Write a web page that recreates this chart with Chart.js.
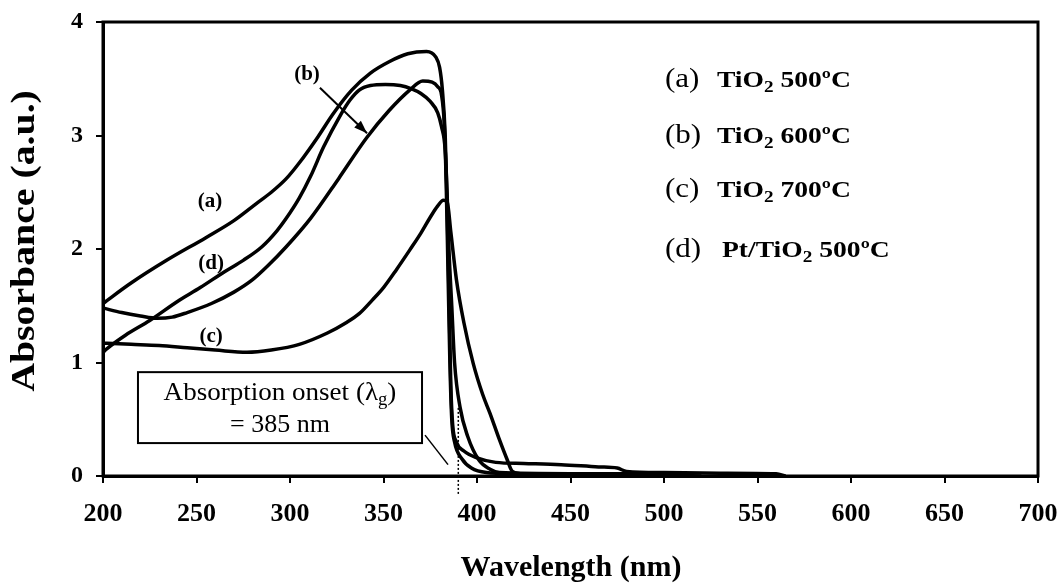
<!DOCTYPE html>
<html>
<head>
<meta charset="utf-8">
<script src="https://cdn.jsdelivr.net/npm/chart.js@4/dist/chart.umd.min.js"></script>
<style>
  body { margin: 0; background: #fff; }
</style>
</head>
<body>
<canvas id="absChart" width="1062" height="583"></canvas>
<script>
// spectra (wavelength nm / absorbance a.u.)
var wlA = [200, 215, 234, 255, 270, 282, 290, 298, 305, 315, 323, 333, 343, 353, 363, 373, 378, 380, 381.5, 383, 384, 385, 386, 387, 389, 393, 400, 410, 425, 445, 465, 475, 480, 500, 530, 560, 565];
var absA = [1.52, 1.70, 1.90, 2.10, 2.25, 2.40, 2.50, 2.62, 2.76, 2.99, 3.19, 3.40, 3.55, 3.65, 3.72, 3.74, 3.69, 3.60, 3.40, 3.00, 2.40, 1.60, 0.80, 0.45, 0.30, 0.22, 0.16, 0.12, 0.11, 0.10, 0.08, 0.07, 0.04, 0.03, 0.025, 0.02, 0.0];

var wlB = [200, 210, 220, 229, 237, 245, 258, 270, 280, 288, 298, 311, 326, 341, 353, 364, 371, 376, 379, 381, 382.5, 383.5, 384.5, 385.5, 386.5, 388, 392, 397, 405, 420, 500, 520];
var absB = [1.48, 1.44, 1.41, 1.39, 1.40, 1.44, 1.52, 1.62, 1.73, 1.85, 2.02, 2.27, 2.62, 2.98, 3.22, 3.40, 3.48, 3.47, 3.43, 3.36, 3.10, 2.60, 1.80, 1.00, 0.50, 0.30, 0.15, 0.07, 0.03, 0.02, 0.01, 0.0];

var wlC = [200, 215, 230, 245, 260, 277, 290, 305, 320, 330, 337, 344, 350, 357, 364, 370, 375, 379, 382, 384, 386, 389, 393, 398, 403, 407, 412, 416, 419, 425, 450, 500, 510];
var absC = [1.17, 1.16, 1.15, 1.13, 1.11, 1.09, 1.11, 1.16, 1.26, 1.35, 1.43, 1.55, 1.66, 1.82, 1.99, 2.14, 2.28, 2.38, 2.43, 2.42, 2.15, 1.73, 1.35, 0.99, 0.72, 0.55, 0.32, 0.15, 0.04, 0.02, 0.02, 0.01, 0.0];

var wlD = [200, 202, 212, 225, 240, 252, 265, 275, 285, 293, 298, 305, 311, 318, 327, 332, 337, 343, 351, 359, 365, 370, 375, 379, 381, 383, 384, 385, 386.5, 388, 391, 395, 401, 407, 412, 450, 505, 510];
var absD = [1.09, 1.12, 1.24, 1.37, 1.54, 1.66, 1.80, 1.90, 2.02, 2.16, 2.27, 2.45, 2.64, 2.90, 3.18, 3.31, 3.40, 3.44, 3.45, 3.44, 3.41, 3.37, 3.30, 3.20, 3.08, 2.87, 2.50, 2.00, 1.50, 1.00, 0.60, 0.35, 0.14, 0.06, 0.03, 0.02, 0.02, 0.0];

var seriesNames = ["(a) TiO2 500ºC", "(b) TiO2 600ºC", "(c) TiO2 700ºC", "(d) Pt/TiO2 500ºC"];
var xTicks = [200, 250, 300, 350, 400, 450, 500, 550, 600, 650, 700];
var yTicks = [0, 1, 2, 3, 4];

function pts(xs, ys) {
    var out = [];
    for (var i = 0; i < xs.length; i++) out.push({x: xs[i], y: ys[i]});
    return out;
}

var SERIF = '"Liberation Serif", "Times New Roman", serif';

// text drawn a bit wider than the font, like the scanned figure
function wideText(ctx, txt, x, y, sx) {
    ctx.save();
    ctx.translate(x, y);
    ctx.scale(sx, 1);
    ctx.fillText(txt, 0, 0);
    ctx.restore();
    return ctx.measureText(txt).width * sx;
}

function richText(ctx, x, y, parts, sx) {
    // parts: [text, font, dy]
    for (var i = 0; i < parts.length; i++) {
        ctx.font = parts[i][1];
        x += wideText(ctx, parts[i][0], x, y + (parts[i][2] || 0), sx);
    }
}

var annotations = {
    id: 'annotations',
    afterDraw: function(chart) {
        var ctx = chart.ctx, ca = chart.chartArea;
        var xs = chart.scales.x, ys = chart.scales.y;
        var px = function(v) { return xs.getPixelForValue(v); };
        var py = function(v) { return ys.getPixelForValue(v); };
        ctx.save();
        ctx.fillStyle = '#000';
        ctx.strokeStyle = '#000';

        // frame
        ctx.lineWidth = 3;
        ctx.strokeRect(ca.left, ca.top, ca.right - ca.left, ca.bottom - ca.top);

        // axis titles
        ctx.textAlign = 'center';
        ctx.textBaseline = 'middle';
        ctx.font = 'bold 30px ' + SERIF;
        ctx.fillText('Wavelength (nm)', 571, 568);
        ctx.save();
        ctx.translate(25, 241);
        ctx.rotate(-Math.PI / 2);
        ctx.scale(1.17, 1);
        ctx.font = 'bold 34px ' + SERIF;
        ctx.fillText('Absorbance (a.u.)', 0, 0);
        ctx.restore();

        // curve labels
        ctx.font = 'bold 21px ' + SERIF;
        ctx.fillText('(a)', px(257.2), py(2.42));
        ctx.fillText('(b)', px(309.1), py(3.54));
        ctx.fillText('(c)', px(257.8), py(1.23));
        ctx.fillText('(d)', px(257.8), py(1.87));

        // arrow to (b)
        var x1 = px(316), y1 = py(3.42), x2 = px(341.2), y2 = py(3.02);
        ctx.lineWidth = 2;
        ctx.beginPath(); ctx.moveTo(x1, y1); ctx.lineTo(x2, y2); ctx.stroke();
        var ang = Math.atan2(y2 - y1, x2 - x1);
        ctx.beginPath();
        ctx.moveTo(x2, y2);
        ctx.lineTo(x2 - 14 * Math.cos(ang - 0.35), y2 - 14 * Math.sin(ang - 0.35));
        ctx.lineTo(x2 - 14 * Math.cos(ang + 0.35), y2 - 14 * Math.sin(ang + 0.35));
        ctx.closePath(); ctx.fill();

        // legend block
        ctx.textAlign = 'left';
        ctx.textBaseline = 'alphabetic';
        var reg = '27px ' + SERIF, bold = 'bold 23px ' + SERIF, sub = 'bold 16px ' + SERIF;
        var rows = [['(a)', 'TiO', ' 500ºC', 3.43], ['(b)', 'TiO', ' 600ºC', 2.93], ['(c)', 'TiO', ' 700ºC', 2.455], ['(d)', 'Pt/TiO', ' 500ºC', 1.93]];
        rows.forEach(function(r, i) {
            var by = py(r[3]);
            ctx.font = reg;
            wideText(ctx, r[0], px(500.5), by, 1.15);
            richText(ctx, px(i === 3 ? 531 : 528.3), by, [[r[1], bold, 0], ['2', sub, 5], [r[2], bold, 0]], 1.2);
        });

        // onset box
        var bx1 = px(218.7), bx2 = px(370.6), by1 = py(0.915), by2 = py(0.29);
        ctx.lineWidth = 2;
        ctx.fillStyle = '#fff';
        ctx.fillRect(bx1, by1, bx2 - bx1, by2 - by1);
        ctx.strokeRect(bx1, by1, bx2 - bx1, by2 - by1);
        ctx.fillStyle = '#000';
        var f1 = '26px ' + SERIF, fs = '18px ' + SERIF;
        ctx.font = f1;
        var w1 = ctx.measureText('Absorption onset (λ)').width;
        ctx.font = fs;
        var wg = ctx.measureText('g').width;
        var cx = (bx1 + bx2) / 2;
        richText(ctx, cx - (w1 + wg) * 1.04 / 2, py(0.669), [['Absorption onset (λ', f1, 0], ['g', fs, 5], [')', f1, 0]], 1.04);
        ctx.textAlign = 'center';
        ctx.font = f1;
        ctx.fillText('= 385 nm', cx, py(0.387));

        // leader line and onset marker
        ctx.lineWidth = 1.5;
        ctx.beginPath(); ctx.moveTo(px(372.2), py(0.36)); ctx.lineTo(px(384.5), py(0.1)); ctx.stroke();
        ctx.setLineDash([2, 2]);
        ctx.beginPath(); ctx.moveTo(px(390), py(0.6)); ctx.lineTo(px(390), py(-0.17)); ctx.stroke();
        ctx.restore();
    }
};

var lineStyle = {borderColor: '#000', borderWidth: 3.5, pointRadius: 0, showLine: true, fill: false, cubicInterpolationMode: 'monotone'};

function ds(label, xs, ys) {
    return Object.assign({label: label, data: pts(xs, ys)}, lineStyle);
}

// keep the tick labels from pushing the plot frame inwards
function noEdgePad(s) {
    s.paddingLeft = 0; s.paddingRight = 0; s.paddingTop = 0; s.paddingBottom = 0;
}

Chart.defaults.color = '#000';

new Chart(document.getElementById('absChart'), {
    type: 'scatter',
    data: {
        datasets: [
            ds(seriesNames[0], wlA, absA),
            ds(seriesNames[1], wlB, absB),
            ds(seriesNames[2], wlC, absC),
            ds(seriesNames[3], wlD, absD)
        ]
    },
    options: {
        responsive: false,
        animation: false,
        layout: {padding: {top: 22, right: 24, left: 0, bottom: 0}},
        plugins: {legend: {display: false}, tooltip: {enabled: false}},
        scales: {
            x: {
                type: 'linear', min: 200, max: 700,
                afterFit: function(s) { s.height = 107; noEdgePad(s); },
                afterBuildTicks: function(s) { s.ticks = xTicks.map(function(v) { return {value: v}; }); },
                ticks: {font: {family: SERIF, size: 26, weight: 'bold'}, padding: 16, maxRotation: 0},
                grid: {drawOnChartArea: false, tickLength: 7, color: '#000', lineWidth: 2},
                border: {color: '#000', width: 3}
            },
            y: {
                min: 0, max: 4,
                afterFit: function(s) { s.width = 103; noEdgePad(s); },
                afterBuildTicks: function(s) { s.ticks = yTicks.map(function(v) { return {value: v}; }); },
                ticks: {font: {family: SERIF, size: 24, weight: 'bold'}, padding: 13},
                grid: {drawOnChartArea: false, tickLength: 7, color: '#000', lineWidth: 2},
                border: {color: '#000', width: 3}
            }
        }
    },
    plugins: [annotations]
});
</script>
</body>
</html>
